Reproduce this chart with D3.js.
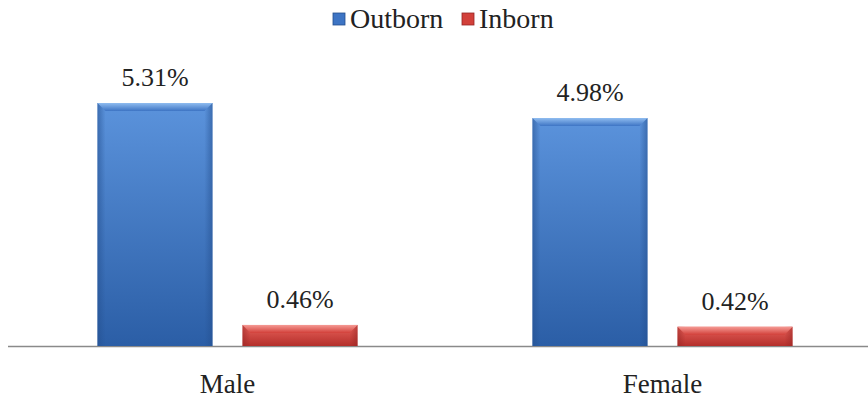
<!DOCTYPE html>
<html>
<head>
<meta charset="utf-8">
<script src="https://cdn.jsdelivr.net/npm/d3@7/dist/d3.min.js"></script>
</head>
<body style="margin:0;background:#fff">
<svg id="s" width="868" height="401"></svg>
<script>
// Data
const categories = ["Male", "Female"];
const seriesNames = ["Outborn", "Inborn"];
const outborn = [5.31, 4.98];
const inborn = [0.46, 0.42];
const seriesColors = {
  Outborn: { light: "#5b93dc", mid: "#3d74c4", dark: "#2b5ea6", edge: "#244f8e", top: "#8fbcf0" },
  Inborn:  { light: "#e8615a", mid: "#d2403a", dark: "#b42f2b", edge: "#962524", top: "#f59a94" }
};
const FONT = "Liberation Serif";

const rows = categories.map((c, i) => ({
  category: c,
  values: [
    { series: "Outborn", value: outborn[i] },
    { series: "Inborn", value: inborn[i] }
  ]
}));

const svg = d3.select("#s");
const baseline = 346;

const x0 = d3.scaleBand().domain(categories).range([10, 880]).paddingInner(0).paddingOuter(0);
const x1 = d3.scaleBand().domain(seriesNames).range([0, x0.bandwidth()]).paddingInner(0.207).paddingOuter(0.603);
const y = d3.scaleLinear().domain([0, 5.31]).range([baseline, 103]);

// Gradients for the bevelled bars
const defs = svg.append("defs");
seriesNames.forEach(s => {
  const c = seriesColors[s];
  const v = defs.append("linearGradient").attr("id", "v-" + s).attr("x1", 0).attr("y1", 0).attr("x2", 0).attr("y2", 1);
  v.append("stop").attr("offset", "0%").attr("stop-color", c.light);
  v.append("stop").attr("offset", "100%").attr("stop-color", c.dark);
  const h = defs.append("linearGradient").attr("id", "h-" + s).attr("x1", 0).attr("y1", 0).attr("x2", 1).attr("y2", 0);
  h.append("stop").attr("offset", "0%").attr("stop-color", c.edge).attr("stop-opacity", 0.55);
  h.append("stop").attr("offset", "7%").attr("stop-color", c.edge).attr("stop-opacity", 0);
  h.append("stop").attr("offset", "93%").attr("stop-color", c.edge).attr("stop-opacity", 0);
  h.append("stop").attr("offset", "100%").attr("stop-color", c.edge).attr("stop-opacity", 0.55);
  const t = defs.append("linearGradient").attr("id", "t-" + s).attr("x1", 0).attr("y1", 0).attr("x2", 0).attr("y2", 1);
  t.append("stop").attr("offset", "0%").attr("stop-color", c.top);
  t.append("stop").attr("offset", "100%").attr("stop-color", c.mid);
});

// Axis line
svg.append("line")
  .attr("x1", 8).attr("x2", 868)
  .attr("y1", baseline + 0.5).attr("y2", baseline + 0.5)
  .attr("stroke", "#8a8a8a").attr("stroke-width", 1.5);

const groups = svg.selectAll("g.cat").data(rows).join("g")
  .attr("class", "cat")
  .attr("transform", d => `translate(${x0(d.category)},0)`);

const bars = groups.selectAll("g.bar").data(d => d.values).join("g").attr("class", "bar");

bars.append("rect")
  .attr("x", d => x1(d.series))
  .attr("y", d => y(d.value))
  .attr("width", x1.bandwidth())
  .attr("height", d => baseline - y(d.value))
  .attr("fill", d => `url(#v-${d.series})`);

bars.append("rect")
  .attr("x", d => x1(d.series))
  .attr("y", d => y(d.value))
  .attr("width", x1.bandwidth())
  .attr("height", d => baseline - y(d.value))
  .attr("fill", d => `url(#h-${d.series})`);

// Top bevel
bars.append("path")
  .attr("d", d => {
    const x = x1(d.series), w = x1.bandwidth(), t = y(d.value), b = 8;
    return `M${x},${t}L${x + w},${t}L${x + w - b},${t + b}L${x + b},${t + b}Z`;
  })
  .attr("fill", d => `url(#t-${d.series})`);

// Value labels
bars.append("text")
  .attr("x", d => x1(d.series) + x1.bandwidth() / 2)
  .attr("y", d => y(d.value) - 17)
  .attr("text-anchor", "middle")
  .style("font-family", `"${FONT}"`)
  .attr("font-size", 26)
  .attr("fill", "#222")
  .text(d => d.value.toFixed(2) + "%");

// Category labels
groups.append("text")
  .attr("x", x0.bandwidth() / 2)
  .attr("y", 393)
  .attr("text-anchor", "middle")
  .style("font-family", `"${FONT}"`)
  .attr("font-size", 27)
  .attr("fill", "#222")
  .text(d => d.category);

// Legend
const legend = svg.append("g").attr("class", "legend");
const legendItems = [
  { name: "Outborn", x: 333 },
  { name: "Inborn", x: 462 }
];
legendItems.forEach(it => {
  const c = seriesColors[it.name];
  legend.append("rect").attr("x", it.x).attr("y", 13).attr("width", 12).attr("height", 12)
    .attr("fill", c.mid).attr("stroke", c.edge).attr("stroke-width", 0.8);
  legend.append("text").attr("x", it.x + 17).attr("y", 28)
    .style("font-family", `"${FONT}"`).attr("font-size", 28).attr("fill", "#222").text(it.name);
});
</script>
</body>
</html>
